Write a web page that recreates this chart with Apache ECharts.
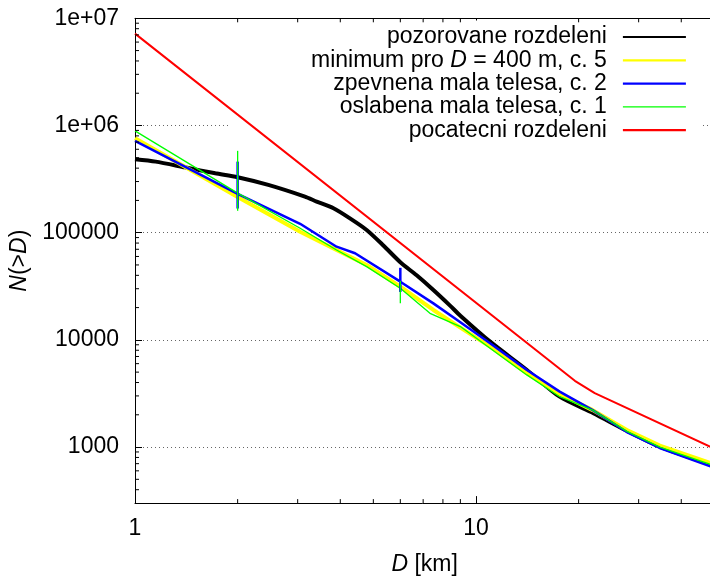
<!DOCTYPE html>
<html><head><meta charset="utf-8">
<script src="https://cdn.jsdelivr.net/npm/echarts@6/dist/echarts.min.js"></script>
<style>html,body{margin:0;padding:0;background:#fff}#c{width:710px;height:576px}</style>
</head><body><div id="c"></div>
<script>
// ---- data ----
const seriesNames = ['pozorovane rozdeleni', 'minimum pro D = 400 m, c. 5', 'zpevnena mala telesa, c. 2', 'oslabena mala telesa, c. 1', 'pocatecni rozdeleni'];

const blackX = [1, 1.15, 1.4, 1.72, 2, 2.46, 3.15, 3.41, 3.82, 4.27, 4.78, 5.35, 6, 6.7, 7.5, 8.38, 9, 11, 14.1, 17.6, 22.1, 27.7, 34.6, 50];
const blackY = [4.84e5, 4.6e5, 4.07e5, 3.58e5, 3.29e5, 2.79e5, 2.17e5, 1.95e5, 1.69e5, 1.36e5, 1.06e5, 7.6e4, 5.3e4, 4.0e4, 2.92e4, 2.1e4, 1.68e4, 9620, 5240, 2950, 2070, 1420, 1010, 670];

const yellowX = [1, 2, 3.05, 3.9, 4.78, 6, 7.5, 9, 11, 14.1, 17.6, 22, 27.7, 34.6, 50];
const yellowY = [7.6e5, 2.15e5, 1.02e5, 6.9e4, 5.0e4, 3.13e4, 1.9e4, 1.3e4, 8650, 4880, 3130, 2210, 1440, 1030, 690];

const blueX = [1, 2, 3.05, 3.9, 4.42, 6, 7.5, 9, 11, 14.1, 17.6, 22, 27.7, 34.6, 50];
const blueY = [7.2e5, 2.3e5, 1.21e5, 7.4e4, 6.43e4, 3.49e4, 2.19e4, 1.46e4, 9290, 5240, 3290, 2210, 1380, 980, 640];

const greenX = [1, 2, 3.05, 3.9, 4.78, 6, 7.33, 9, 11, 14.1, 17.6, 22, 27.7, 34.6, 50];
const greenY = [8.9e5, 2.34e5, 1.1e5, 6.9e4, 4.82e4, 3.03e4, 1.77e4, 1.33e4, 8350, 4710, 2950, 2210, 1400, 1000, 670];

const redX = [1, 19.5, 22.3, 50];
const redY = [7.2e6, 4150, 3180, 966];

const errX = [2, 6];
const blueErrHigh = [4.6e5, 4.7e4];
const blueErrLow = [1.68e5, 2.8e4];
const greenErrHigh = [5.8e5, 3.55e4];
const greenErrLow = [1.6e5, 2.2e4];

const xMin = 1, xMax = 50, yMin = 300, yMax = 1e7;
const xMinorTicks = [2, 3, 4, 5, 6, 7, 8, 9, 20, 30, 40];
const yMinorTicks = [400, 500, 600, 700, 800, 900, 2000, 3000, 4000, 5000, 6000, 7000, 8000, 9000,
  2e4, 3e4, 4e4, 5e4, 6e4, 7e4, 8e4, 9e4, 2e5, 3e5, 4e5, 5e5, 6e5, 7e5, 8e5, 9e5,
  2e6, 3e6, 4e6, 5e6, 6e6, 7e6, 8e6, 9e6];

// ---- build ----
const FONT = '"Liberation Sans", Arial, Helvetica, sans-serif';
const FS = 23;
const pair = (xs, ys) => xs.map((x, i) => [x, ys[i]]);
const colors = ['#000000', '#ffff00', '#0000ff', '#00ff00', '#ff0000'];
const widths = [4, 4, 2.5, 1.3, 2];
const smooths = [0.25, 0, 0, 0, 0];
const mainData = [pair(blackX, blackY), pair(yellowX, yellowY), pair(blueX, blueY), pair(greenX, greenY), pair(redX, redY)];

const isPow10 = v => { const l = Math.log10(v); return Math.abs(l - Math.round(l)) < 1e-6; };
const yFmt = v => {
  if (!isPow10(v)) return '';
  const r = Math.round(v);
  if (r === 1e7) return '1e+07';
  if (r === 1e6) return '1e+06';
  return String(r);
};
const xFmt = v => isPow10(v) ? String(Math.round(v)) : '';

function errSeries(color, lw, hi, lo) {
  return {
    type: 'custom', silent: true, clip: false, z: 3,
    data: errX.map((x, i) => [x, hi[i], lo[i]]),
    renderItem: (params, api) => {
      const a = api.coord([api.value(0), api.value(1)]);
      const b = api.coord([api.value(0), api.value(2)]);
      return { type: 'line', shape: { x1: a[0], y1: a[1], x2: b[0], y2: b[1] }, style: { stroke: color, lineWidth: lw } };
    }
  };
}

const series = seriesNames.map((n, i) => ({
  name: n, type: 'line', data: mainData[i], symbol: 'none', showSymbol: false, smooth: smooths[i],
  lineStyle: { color: colors[i], width: widths[i] }, itemStyle: { color: colors[i] },
  z: 2, silent: true, animation: false
}));
series.push(errSeries('#0000ff', 2.5, blueErrHigh, blueErrLow));
series.push(errSeries('#00ff00', 1.3, greenErrHigh, greenErrLow));
series.push({
  type: 'custom', silent: true, clip: false, z: 4,
  data: xMinorTicks.map(v => [v, yMin]),
  renderItem: (params, api) => {
    const v = api.value(0);
    const b = api.coord([v, yMin]);
    const t = api.coord([v, yMax]);
    return { type: 'group', children: [
      { type: 'line', shape: { x1: b[0], y1: b[1], x2: b[0], y2: b[1] - 4 }, style: { stroke: '#000', lineWidth: 1 } },
      { type: 'line', shape: { x1: t[0], y1: t[1], x2: t[0], y2: t[1] + 4 }, style: { stroke: '#000', lineWidth: 1 } }
    ] };
  }
});
series.push({
  type: 'custom', silent: true, clip: false, z: 4,
  data: yMinorTicks.map(v => [xMin, v]),
  renderItem: (params, api) => {
    const p = api.coord([xMin, api.value(1)]);
    return { type: 'line', shape: { x1: p[0], y1: p[1], x2: p[0] + 4, y2: p[1] }, style: { stroke: '#000', lineWidth: 1 } };
  }
});

const axisCommon = {
  type: 'log', logBase: 10,
  axisLine: { show: true, lineStyle: { color: '#000', width: 1 } },
  axisTick: { show: true, inside: true, length: 7, lineStyle: { color: '#000', width: 1 } },
  splitLine: { show: false }, minorTick: { show: false }
};
const italicRich = { i: { fontStyle: 'italic', fontSize: FS, fontFamily: FONT, color: '#000' } };

const option = {
  animation: false,
  backgroundColor: '#fff',
  grid: { left: 135, top: 18.3, width: 579.3, height: 484.8, containLabel: false, outerBoundsMode: 'none' },
  legend: {
    data: seriesNames.map((n, i) => ({ name: n, lineStyle: { width: i === 3 ? 1.3 : 2.2, color: colors[i] }, itemStyle: { opacity: 0 } })),
    orient: 'vertical', align: 'right', right: 8, top: 20.5, z: 1,
    itemWidth: 63, itemHeight: 10, itemGap: 0.3,
    itemStyle: { opacity: 0 },
    backgroundColor: '#fff', padding: [5, 15, 5, 80],
    selectedMode: false,
    formatter: n => n === 'minimum pro D = 400 m, c. 5' ? 'minimum pro {i|D} = 400 m, c. 5' : n,
    textStyle: { fontSize: FS, fontFamily: FONT, color: '#000', lineHeight: 23, padding: [0, 11, 0, 0],
      rich: { i: { fontStyle: 'italic', fontSize: FS, fontFamily: FONT, color: '#000', lineHeight: 23 } } }
  },
  xAxis: [
    Object.assign({}, axisCommon, {
      min: xMin, max: xMax, position: 'bottom',
      axisLabel: { fontSize: FS, fontFamily: FONT, color: '#000', margin: 14, formatter: xFmt, showMaxLabel: false },
      name: '{i|D} [km]', nameLocation: 'middle', nameGap: 50,
      nameTextStyle: { fontSize: FS, fontFamily: FONT, color: '#000', rich: italicRich }
    }),
    Object.assign({}, axisCommon, {
      min: xMin, max: xMax, position: 'top', axisLabel: { show: false }
    })
  ],
  yAxis: [
    Object.assign({}, axisCommon, {
      min: yMin, max: yMax, position: 'left',
      axisLabel: { fontSize: FS, fontFamily: FONT, color: '#000', margin: 16, formatter: yFmt, showMinLabel: false },
      splitLine: { show: true, showMinLine: false, showMaxLine: false, lineStyle: { color: '#666', width: 1, type: [1, 3] } },
      name: '{i|N}(>{i|D})', nameLocation: 'middle', nameRotate: 90, nameGap: 83,
      nameTextStyle: { fontSize: FS, fontFamily: FONT, color: '#000', rich: italicRich }
    })
  ],
  series: series
};

const chart = echarts.init(document.getElementById('c'), null, { renderer: 'canvas' });
chart.setOption(option);
</script>
</body></html>
